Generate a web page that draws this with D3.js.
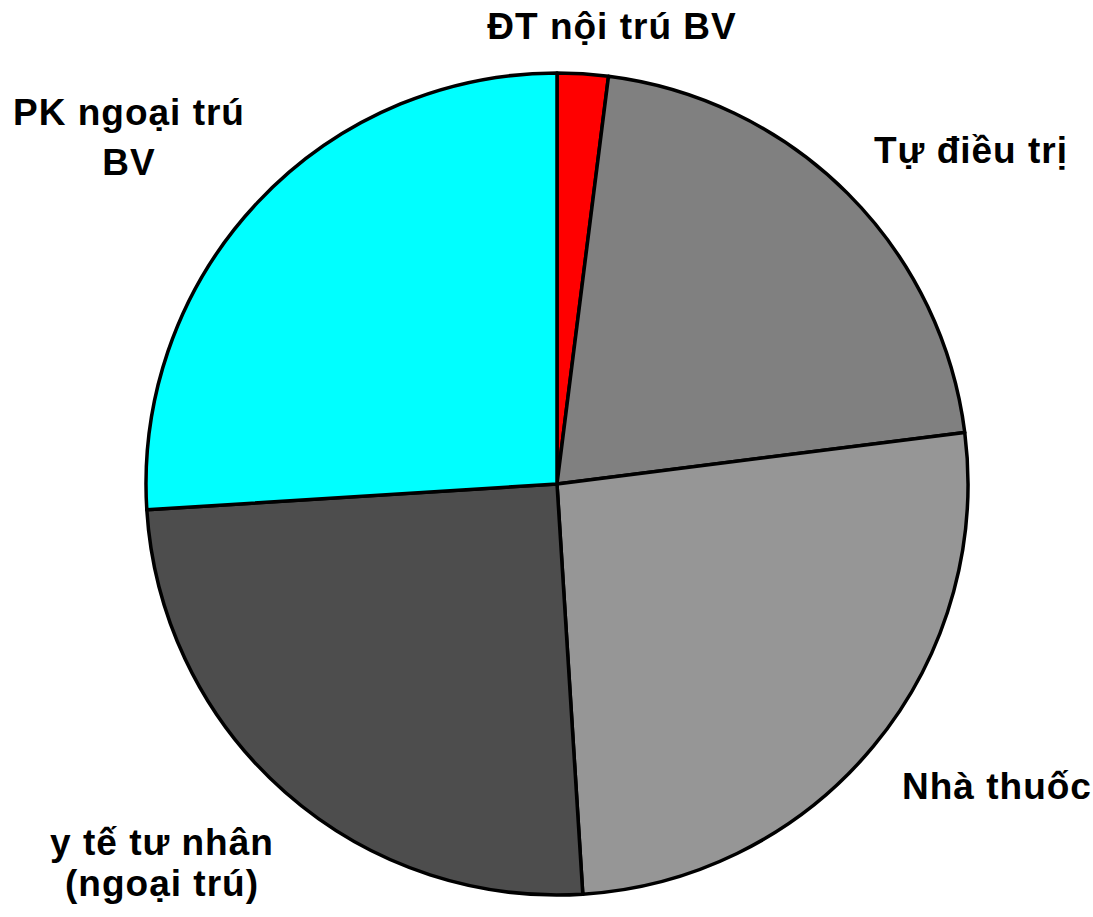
<!DOCTYPE html>
<html>
<head>
<meta charset="utf-8">
<script src="https://cdn.jsdelivr.net/npm/d3@7"></script>
<style>
  body { margin: 0; background: #fff; }
  text { font-family: "Liberation Sans", Arial, sans-serif; font-weight: bold; fill: #000; }
</style>
</head>
<body>
<svg></svg>
<script>
// Dữ liệu biểu đồ
const categories = ["ĐT nội trú BV", "Tự điều trị", "Nhà thuốc", "y tế tư nhân (ngoại trú)", "PK ngoại trú BV"];
const values = [2, 21, 26, 25, 26];
const colors = ["#ff0000", "#808080", "#969696", "#4d4d4d", "#00ffff"];
// Nhãn theo dòng
const labelLines = [["ĐT nội trú BV"], ["Tự điều trị"], ["Nhà thuốc"], ["y tế tư nhân", "(ngoại trú)"], ["PK ngoại trú", "BV"]];

const width = 1093, height = 917;
const cx = 557, cy = 484, r = 411;

const svg = d3.select("svg").attr("width", width).attr("height", height);

const pie = d3.pie().sort(null).value(d => d);
const arc = d3.arc().innerRadius(0).outerRadius(r);

const g = svg.append("g").attr("transform", `translate(${cx},${cy})`);
g.selectAll("path")
  .data(pie(values))
  .join("path")
  .attr("d", arc)
  .attr("fill", (d, i) => colors[i])
  .attr("stroke", "#000")
  .attr("stroke-width", 3.5)
  .attr("stroke-linejoin", "round");

// Vị trí nhãn (tâm chữ, đường cơ sở dòng đầu, khoảng cách dòng)
const labelPos = [
  { x: 612, y: 39, dy: 0 },
  { x: 971, y: 163, dy: 0 },
  { x: 997, y: 799, dy: 0 },
  { x: 162, y: 855, dy: 41 },
  { x: 129, y: 125, dy: 50 }
];

labelLines.forEach((lines, i) => {
  const t = svg.append("text")
    .attr("text-anchor", "middle")
    .attr("font-size", 37)
    .attr("letter-spacing", 1);
  lines.forEach((l, j) => {
    t.append("tspan")
      .attr("x", labelPos[i].x)
      .attr("y", labelPos[i].y + j * labelPos[i].dy)
      .text(l);
  });
});
</script>
</body>
</html>
